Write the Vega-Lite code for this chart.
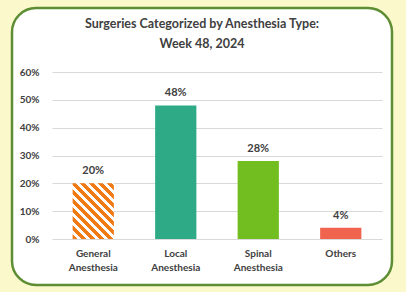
{
  "$schema": "https://vega.github.io/schema/vega-lite/v6.json",
  "width": 380,
  "height": 277,
  "autosize": {"type": "none"},
  "padding": {"left": 12, "top": 8, "right": 14, "bottom": 7},
  "background": "#FBF8CB",
  "config": {
    "view": {"fill": "white", "stroke": "#5E8E34", "strokeWidth": 2.5, "cornerRadius": 24},
    "font": "Lato"
  },
  "title": {
    "text": ["Surgeries Categorized by Anesthesia Type:", "Week 48, 2024"],
    "anchor": "middle",
    "frame": "group",
    "offset": -42,
    "fontSize": 12.5,
    "fontWeight": "bold",
    "color": "#404040",
    "lineHeight": 20
  },
  "data": {
    "values": [
      {"type": "General Anesthesia", "share": 0.20},
      {"type": "Local Anesthesia", "share": 0.48},
      {"type": "Spinal Anesthesia", "share": 0.28},
      {"type": "Others", "share": 0.04}
    ]
  },
  "encoding": {
    "x": {
      "field": "type",
      "type": "nominal",
      "sort": ["General Anesthesia", "Local Anesthesia", "Spinal Anesthesia", "Others"],
      "scale": {"domain": ["General Anesthesia", "Local Anesthesia", "Spinal Anesthesia", "Others"], "range": [40, 370], "paddingInner": 0.5, "paddingOuter": 0.25},
      "axis": {
        "title": null,
        "labelAngle": 0,
        "labelExpr": "split(datum.label, ' ')",
        "labelFontSize": 10,
        "labelFontWeight": "bold",
        "labelColor": "#404040",
        "labelLineHeight": 14,
        "labelPadding": 9,
        "ticks": false,
        "tickSize": 0,
        "domain": false,
        "offset": -46
      }
    },
    "y": {
      "field": "share",
      "type": "quantitative",
      "scale": {"domain": [0, 0.6], "range": [231, 64], "nice": false},
      "axis": {
        "title": null,
        "values": [0, 0.1, 0.2, 0.3, 0.4, 0.5, 0.6],
        "format": ".0%",
        "labelFontSize": 10,
        "labelFontWeight": "bold",
        "labelColor": "#404040",
        "gridColor": "#D9D9D9",
        "gridWidth": 1,
        "ticks": false,
        "tickSize": 0,
        "domain": false,
        "labelPadding": 2,
        "offset": -29
      }
    }
  },
  "layer": [
    {
      "transform": [{"filter": "datum.type !== 'General Anesthesia'"}],
      "mark": {"type": "bar"},
      "encoding": {
        "color": {
          "field": "type",
          "type": "nominal",
          "legend": null,
          "scale": {
            "domain": ["Local Anesthesia", "Spinal Anesthesia", "Others"],
            "range": ["#2EAA87", "#72BE21", "#F0644F"]
          }
        }
      }
    },
    {
      "transform": [{"filter": "datum.type === 'General Anesthesia'"}],
      "mark": {
        "type": "bar",
        "color": {
          "gradient": "linear",
          "x1": 0, "y1": 1, "x2": 1, "y2": -0.36,
          "stops": [
            {"offset": 0, "color": "#F07A14"}, {"offset": 0.042, "color": "#F07A14"}, {"offset": 0.042, "color": "#FFFFFF"}, {"offset": 0.0769, "color": "#FFFFFF"},
            {"offset": 0.0769, "color": "#F07A14"}, {"offset": 0.1189, "color": "#F07A14"}, {"offset": 0.1189, "color": "#FFFFFF"}, {"offset": 0.1538, "color": "#FFFFFF"},
            {"offset": 0.1538, "color": "#F07A14"}, {"offset": 0.1958, "color": "#F07A14"}, {"offset": 0.1958, "color": "#FFFFFF"}, {"offset": 0.2308, "color": "#FFFFFF"},
            {"offset": 0.2308, "color": "#F07A14"}, {"offset": 0.2728, "color": "#F07A14"}, {"offset": 0.2728, "color": "#FFFFFF"}, {"offset": 0.3077, "color": "#FFFFFF"},
            {"offset": 0.3077, "color": "#F07A14"}, {"offset": 0.3497, "color": "#F07A14"}, {"offset": 0.3497, "color": "#FFFFFF"}, {"offset": 0.3846, "color": "#FFFFFF"},
            {"offset": 0.3846, "color": "#F07A14"}, {"offset": 0.4266, "color": "#F07A14"}, {"offset": 0.4266, "color": "#FFFFFF"}, {"offset": 0.4615, "color": "#FFFFFF"},
            {"offset": 0.4615, "color": "#F07A14"}, {"offset": 0.5035, "color": "#F07A14"}, {"offset": 0.5035, "color": "#FFFFFF"}, {"offset": 0.5385, "color": "#FFFFFF"},
            {"offset": 0.5385, "color": "#F07A14"}, {"offset": 0.5805, "color": "#F07A14"}, {"offset": 0.5805, "color": "#FFFFFF"}, {"offset": 0.6154, "color": "#FFFFFF"},
            {"offset": 0.6154, "color": "#F07A14"}, {"offset": 0.6574, "color": "#F07A14"}, {"offset": 0.6574, "color": "#FFFFFF"}, {"offset": 0.6923, "color": "#FFFFFF"},
            {"offset": 0.6923, "color": "#F07A14"}, {"offset": 0.7343, "color": "#F07A14"}, {"offset": 0.7343, "color": "#FFFFFF"}, {"offset": 0.7692, "color": "#FFFFFF"},
            {"offset": 0.7692, "color": "#F07A14"}, {"offset": 0.8112, "color": "#F07A14"}, {"offset": 0.8112, "color": "#FFFFFF"}, {"offset": 0.8462, "color": "#FFFFFF"},
            {"offset": 0.8462, "color": "#F07A14"}, {"offset": 0.8882, "color": "#F07A14"}, {"offset": 0.8882, "color": "#FFFFFF"}, {"offset": 0.9231, "color": "#FFFFFF"},
            {"offset": 0.9231, "color": "#F07A14"}, {"offset": 0.9651, "color": "#F07A14"}, {"offset": 0.9651, "color": "#FFFFFF"}, {"offset": 1, "color": "#FFFFFF"}
          ]
        }
      }
    },
    {
      "mark": {"type": "text", "baseline": "bottom", "dy": -7, "fontSize": 11, "fontWeight": "bold", "color": "#404040"},
      "encoding": {
        "text": {"field": "share", "type": "quantitative", "format": ".0%"}
      }
    }
  ]
}
